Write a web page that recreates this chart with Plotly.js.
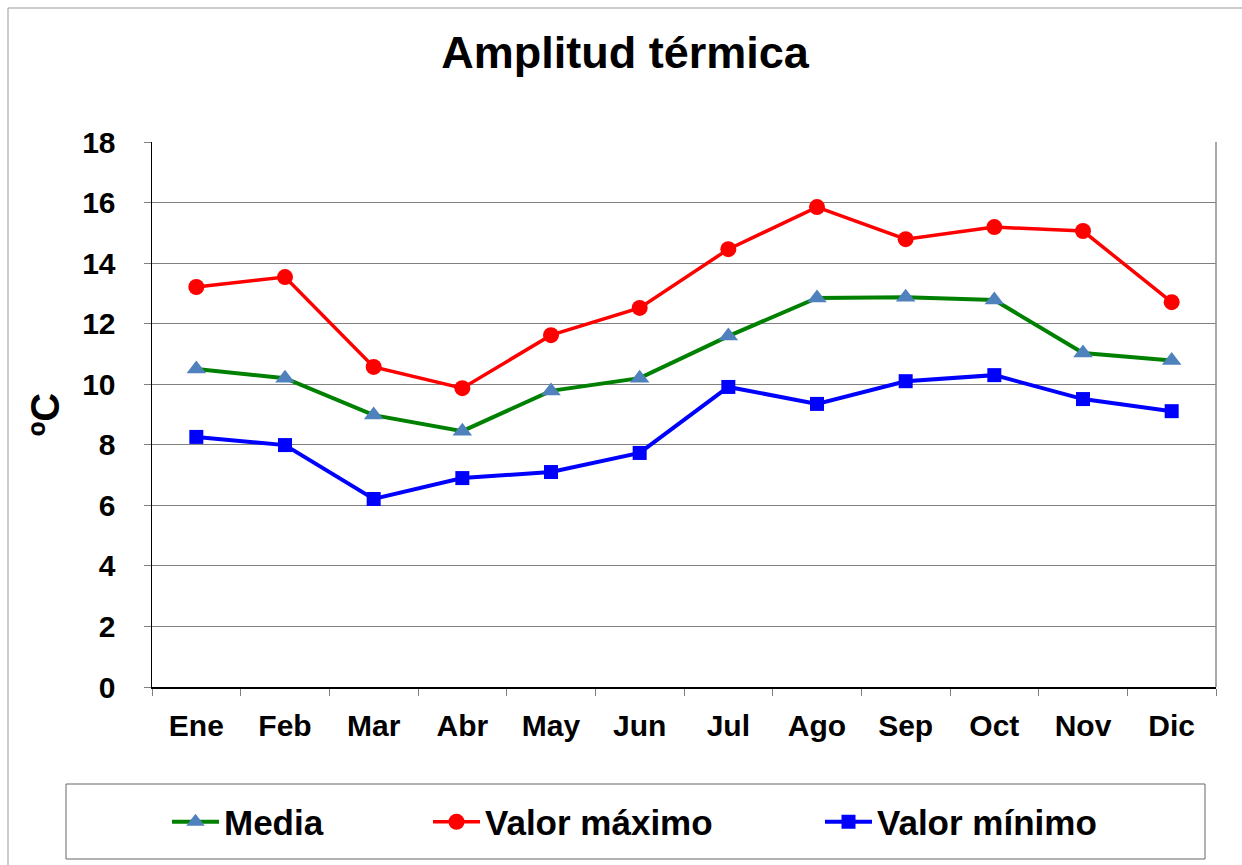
<!DOCTYPE html>
<html>
<head>
<meta charset="utf-8">
<script src="https://cdn.plot.ly/plotly-3.0.1.min.js"></script>
<style>html,body{margin:0;padding:0;background:#fff;}#chart{width:1242px;height:865px;}</style>
</head>
<body>
<div id="chart"></div>
<script>
const months = ['Ene','Feb','Mar','Abr','May','Jun','Jul','Ago','Sep','Oct','Nov','Dic'];
const media = [10.5, 10.2, 8.98, 8.45, 9.78, 10.2, 11.59, 12.85, 12.87, 12.78, 11.03, 10.78];
const valorMaximo = [13.21, 13.54, 10.57, 9.87, 11.62, 12.52, 14.46, 15.85, 14.79, 15.19, 15.06, 12.71];
const valorMinimo = [8.26, 7.99, 6.21, 6.9, 7.1, 7.73, 9.91, 9.35, 10.1, 10.3, 9.51, 9.11];
const yTicks = [0, 2, 4, 6, 8, 10, 12, 14, 16, 18];

const FONT = 'Liberation Sans, Arial, sans-serif';

const traces = [
  {x: months, y: media, name: 'Media', type: 'scatter', mode: 'lines+markers',
   line: {color: '#008000', width: 4},
   marker: {symbol: 'triangle-up', size: 17, color: '#4F81BD'}, legend: 'legend'},
  {x: months, y: valorMaximo, name: 'Valor máximo', type: 'scatter', mode: 'lines+markers',
   line: {color: '#FF0000', width: 3.5},
   marker: {symbol: 'circle', size: 16, color: '#FF0000'}, legend: 'legend2'},
  {x: months, y: valorMinimo, name: 'Valor mínimo', type: 'scatter', mode: 'lines+markers',
   line: {color: '#0000FF', width: 4},
   marker: {symbol: 'square', size: 14, color: '#0000FF'}, legend: 'legend3'}
];

const W = 1064, H = 545, L = 152, T = 142;
const px = v => (v - L) / W;
const py = v => (T + H - v) / H;

const legBase = {orientation: 'h', xanchor: 'left', yanchor: 'middle', y: py(822),
  bgcolor: 'rgba(0,0,0,0)', borderwidth: 0, itemwidth: 47,
  font: {family: FONT, size: 35, color: '#000', weight: 'bold'}};

const layout = {
  width: 1242, height: 865,
  margin: {l: 152, r: 26, t: 142, b: 178},
  paper_bgcolor: '#fff', plot_bgcolor: '#fff',
  title: {text: 'Amplitud térmica', x: 625/1242, xref: 'container', xanchor: 'center',
    y: 1 - 52/865, yref: 'container', yanchor: 'middle',
    font: {family: FONT, size: 45, color: '#000', weight: 'bold'}},
  xaxis: {type: 'category', range: [-0.5, 11.5], autorange: false, tickson: 'boundaries', ticks: 'outside', ticklen: 7,
    tickcolor: '#808080', showline: true, linecolor: '#000', linewidth: 1.5,
    showgrid: false, zeroline: false, ticklabelstandoff: 11,
    tickfont: {family: FONT, size: 30, color: '#000', weight: 'bold'}},
  yaxis: {range: [0, 18], autorange: false, tickvals: yTicks, ticks: 'outside', ticklen: 7, tickcolor: '#808080',
    showline: true, linecolor: '#000', linewidth: 1.5, showgrid: true, gridcolor: '#808080', gridwidth: 1,
    zeroline: false, ticklabelstandoff: 22,
    tickfont: {family: FONT, size: 30, color: '#000', weight: 'bold'},
    title: {text: 'ºC', standoff: 10, font: {family: FONT, size: 40, color: '#000', weight: 'bold'}}},
  showlegend: true,
  legend: Object.assign({}, legBase, {x: px(167)}),
  legend2: Object.assign({}, legBase, {x: px(428)}),
  legend3: Object.assign({}, legBase, {x: px(820)}),
  shapes: [
    {type: 'line', xref: 'paper', yref: 'paper', x0: 1, x1: 1, y0: 0, y1: 1, line: {color: '#8c8c8c', width: 1.5}},
    {type: 'rect', xref: 'paper', yref: 'paper', x0: px(66), x1: px(1205), y0: py(784), y1: py(859),
     line: {color: '#666', width: 1}, fillcolor: 'rgba(0,0,0,0)'},
    {type: 'rect', xref: 'paper', yref: 'paper', x0: px(8), x1: px(1260), y0: py(8), y1: py(880),
     line: {color: '#999', width: 1}, fillcolor: 'rgba(0,0,0,0)'}
  ]
};

Plotly.newPlot('chart', traces, layout, {displayModeBar: false, staticPlot: true});
</script>
</body>
</html>
